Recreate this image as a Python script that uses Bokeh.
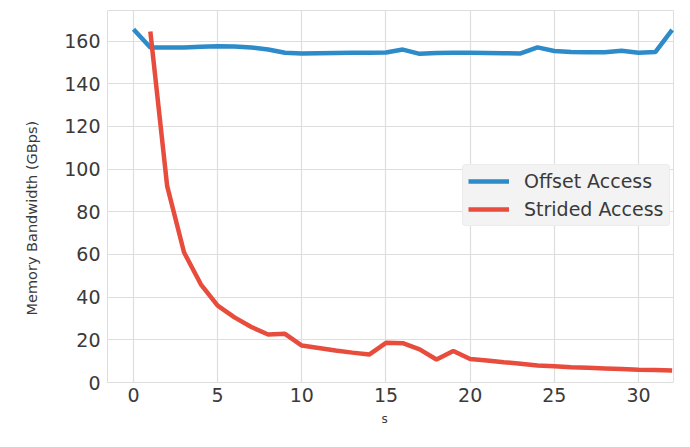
from bokeh.plotting import figure
from bokeh.models import Range1d, Legend, LegendItem, Title
from bokeh.embed import file_html
from bokeh.resources import INLINE

# ---- data ----
offset_x = list(range(0, 33))
offset_bw = [165.5, 157.0, 157.0, 157.0, 157.3, 157.5, 157.4, 157.0, 156.0, 154.5,
             154.2, 154.3, 154.4, 154.5, 154.5, 154.6, 156.0, 154.0, 154.4, 154.5,
             154.5, 154.4, 154.3, 154.2, 157.0, 155.3, 154.8, 154.7, 154.7, 155.4,
             154.5, 154.8, 165.2]
strided_x = list(range(1, 33))
strided_bw = [164.5, 92.0, 61.0, 46.0, 36.0, 30.5, 26.0, 22.5, 22.8, 17.3,
              16.2, 15.0, 14.0, 13.1, 18.6, 18.4, 15.5, 10.8, 14.8, 11.0,
              10.3, 9.5, 8.8, 8.0, 7.6, 7.2, 6.9, 6.6, 6.3, 6.0,
              5.8, 5.6]
x_ticks = [0, 5, 10, 15, 20, 25, 30]
y_ticks = [0, 20, 40, 60, 80, 100, 120, 140, 160]
y_label = "Memory Bandwidth (GBps)"
x_label = "s"

FONT = "DejaVu Sans"
TXT = "#3a3a3a"
GRID = "#dedede"

p = figure(width=674, height=431, output_backend="svg", toolbar_location=None,
           x_range=Range1d(-1.545, 32.14), y_range=Range1d(0, 174.3),
           min_border_left=107, min_border_right=0, min_border_top=10,
           min_border_bottom=48)

p.background_fill_color = "white"
p.border_fill_color = "white"
p.outline_line_color = GRID
p.outline_line_width = 1

r1 = p.line(offset_x, offset_bw, line_color="#2e8bc9", line_width=4.5)
r2 = p.line(strided_x, strided_bw, line_color="#e74c3c", line_width=4.5)

p.xaxis.ticker = x_ticks
p.yaxis.ticker = y_ticks
for ax in (p.xaxis, p.yaxis):
    ax.axis_line_color = None
    ax.major_tick_line_color = None
    ax.minor_tick_line_color = None
    ax.major_tick_out = 0
    ax.major_tick_in = 0
    ax.major_label_text_font = FONT
    ax.major_label_text_font_size = "19px"
    ax.major_label_text_color = TXT

p.xaxis.major_label_standoff = 5
p.yaxis.major_label_standoff = 7

ytitle = Title(text=y_label, align="left", offset=67, standoff=43,
               text_font=FONT, text_font_size="14.5px", text_font_style="normal",
               text_color=TXT)
p.add_layout(ytitle, "left")
xtitle = Title(text=x_label, align="left", offset=274, standoff=11,
               text_font=FONT, text_font_size="12px", text_font_style="normal",
               text_color=TXT)
p.add_layout(xtitle, "below")

p.xgrid.grid_line_color = GRID
p.ygrid.grid_line_color = GRID
p.xgrid.grid_line_width = 1.2
p.ygrid.grid_line_width = 1.2

legend = Legend(items=[LegendItem(label="Offset Access", renderers=[r1]),
                       LegendItem(label="Strided Access", renderers=[r2])],
                location=(355, 156))
legend.background_fill_color = "#f3f3f3"
legend.background_fill_alpha = 1.0
legend.border_line_color = "#e6e6e6"
legend.border_radius = 4
legend.label_text_font = FONT
legend.label_text_font_size = "19px"
legend.label_text_color = TXT
legend.glyph_width = 41
legend.glyph_height = 22
legend.label_standoff = 15
legend.spacing = 6
legend.padding = 5
legend.margin = 0
p.add_layout(legend, "center")

open("out.html", "w").write(file_html(p, INLINE))
